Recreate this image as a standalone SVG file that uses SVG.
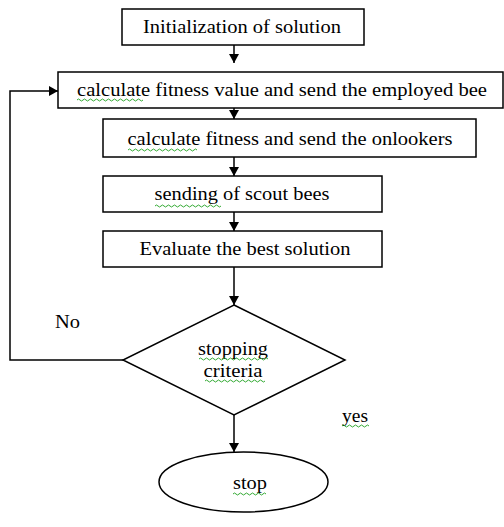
<svg xmlns="http://www.w3.org/2000/svg" width="504" height="527" viewBox="0 0 504 527">
<style>
.box{fill:#fff;stroke:#000;stroke-width:1.5}
.t{font-family:"Liberation Serif","Times New Roman",serif;font-size:18px;fill:#000}
.c{stroke:#000;stroke-width:1.5;fill:none}
.sq{stroke:#3a3;stroke-width:1;fill:none}
</style>
<defs>
<marker id="ah" markerWidth="9" markerHeight="10" refX="9" refY="5" orient="auto" markerUnits="userSpaceOnUse">
<path d="M0,0 L9,5 L0,10 Z" fill="#000"/>
</marker>
</defs>
<rect width="504" height="527" fill="#fff"/>
<g id="connectors">
<line class="c" x1="234" y1="45" x2="234" y2="63" marker-end="url(#ah)"/>
<line class="c" x1="234" y1="108" x2="234" y2="119" marker-end="url(#ah)"/>
<line class="c" x1="234" y1="157" x2="234" y2="176" marker-end="url(#ah)"/>
<line class="c" x1="234" y1="212" x2="234" y2="231" marker-end="url(#ah)"/>
<line class="c" x1="234" y1="267" x2="234" y2="305" marker-end="url(#ah)"/>
<polyline class="c" points="123,360 10,360 10,91 58,91" marker-end="url(#ah)"/>
<line class="c" x1="234" y1="415" x2="234" y2="452" marker-end="url(#ah)"/>
</g>
<g id="n1">
<rect class="box" x="122" y="9" width="242" height="36"/>
<text class="t" x="242" y="33" text-anchor="middle" textLength="198" lengthAdjust="spacingAndGlyphs">Initialization of solution</text>
</g>
<g id="n2">
<rect class="box" x="58" y="72" width="445" height="36"/>
<text class="t" x="282" y="96" text-anchor="middle" textLength="410" lengthAdjust="spacingAndGlyphs">calculate fitness value and send the employed bee</text>
<path class="sq" d="M77,100 q1.5,-2 3,0 t3,0 t3,0 t3,0 t3,0 t3,0 t3,0 t3,0 t3,0 t3,0 t3,0 t3,0 t3,0 t3,0 t3,0 t3,0 t3,0 t3,0 t3,0 t3,0 t3,0 t3,0"/>
</g>
<g id="n3">
<rect class="box" x="103" y="119" width="373" height="38"/>
<text class="t" x="290" y="145" text-anchor="middle" textLength="325" lengthAdjust="spacingAndGlyphs">calculate fitness and send the onlookers</text>
<path class="sq" d="M128,150 q1.5,-2 3,0 t3,0 t3,0 t3,0 t3,0 t3,0 t3,0 t3,0 t3,0 t3,0 t3,0 t3,0 t3,0 t3,0 t3,0 t3,0 t3,0 t3,0 t3,0 t3,0 t3,0 t3,0 t3,0"/>
</g>
<g id="n4">
<rect class="box" x="103" y="176" width="279" height="36"/>
<text class="t" x="242" y="200" text-anchor="middle" textLength="175" lengthAdjust="spacingAndGlyphs">sending of scout bees</text>
<path class="sq" d="M155,206 q1.5,-2 3,0 t3,0 t3,0 t3,0 t3,0 t3,0 t3,0 t3,0 t3,0 t3,0 t3,0 t3,0 t3,0 t3,0 t3,0 t3,0 t3,0 t3,0 t3,0 t3,0 t3,0 t3,0"/>
</g>
<g id="n5">
<rect class="box" x="103" y="231" width="279" height="36"/>
<text class="t" x="245" y="255" text-anchor="middle" textLength="211" lengthAdjust="spacingAndGlyphs">Evaluate the best solution</text>
</g>
<g id="n6">
<polygon class="box" points="234,305 345,360 234,415 123,360"/>
<text class="t" x="233" y="355" text-anchor="middle" textLength="70" lengthAdjust="spacingAndGlyphs">stopping</text>
<text class="t" x="233" y="377" text-anchor="middle" textLength="59" lengthAdjust="spacingAndGlyphs">criteria</text>
<path class="sq" d="M199,359 q1.5,-2 3,0 t3,0 t3,0 t3,0 t3,0 t3,0 t3,0 t3,0 t3,0 t3,0 t3,0 t3,0 t3,0 t3,0 t3,0 t3,0 t3,0 t3,0 t3,0 t3,0 t3,0 t3,0 t3,0"/>
<path class="sq" d="M205,381 q1.5,-2 3,0 t3,0 t3,0 t3,0 t3,0 t3,0 t3,0 t3,0 t3,0 t3,0 t3,0 t3,0 t3,0 t3,0 t3,0 t3,0 t3,0 t3,0 t3,0 t3,0"/>
</g>
<g id="n7">
<ellipse class="box" cx="243.5" cy="482" rx="84.5" ry="30"/>
<text class="t" x="250" y="489" text-anchor="middle" textLength="34" lengthAdjust="spacingAndGlyphs">stop</text>
<path class="sq" d="M233,494 q1.5,-2 3,0 t3,0 t3,0 t3,0 t3,0 t3,0 t3,0 t3,0 t3,0 t3,0 t3,0"/>
</g>
<g id="labels">
<text class="t" x="55" y="328" textLength="25" lengthAdjust="spacingAndGlyphs">No</text>
<text class="t" x="342" y="422" textLength="26" lengthAdjust="spacingAndGlyphs">yes</text>
<path class="sq" d="M342,426 q1.5,-2 3,0 t3,0 t3,0 t3,0 t3,0 t3,0 t3,0 t3,0 t3,0"/>
</g>
</svg>
